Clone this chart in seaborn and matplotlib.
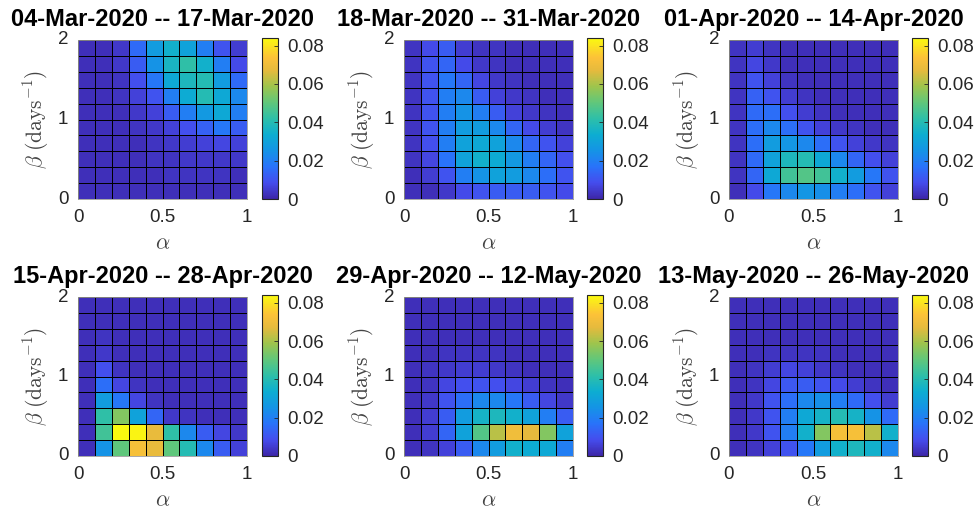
import numpy as np
import pandas as pd
import matplotlib
matplotlib.use("Agg")
import matplotlib.pyplot as plt
import seaborn as sns
from matplotlib.colors import LinearSegmentedColormap

# ---------------------------------------------------------------
# Data: fraction of posterior mass on an (alpha, beta) grid
# rows run from beta = 1.8-2.0 (top) down to beta = 0-0.2 (bottom)
# ---------------------------------------------------------------
alpha = [0.05, 0.15, 0.25, 0.35, 0.45, 0.55, 0.65, 0.75, 0.85, 0.95]
beta = [1.9, 1.7, 1.5, 1.3, 1.1, 0.9, 0.7, 0.5, 0.3, 0.1]

titles = [
    "04-Mar-2020 -- 17-Mar-2020",
    "18-Mar-2020 -- 31-Mar-2020",
    "01-Apr-2020 -- 14-Apr-2020",
    "15-Apr-2020 -- 28-Apr-2020",
    "29-Apr-2020 -- 12-May-2020",
    "13-May-2020 -- 26-May-2020",
]

p_mar04 = [
    [0.002, 0.002, 0.004, 0.015, 0.028, 0.035, 0.030, 0.020, 0.010, 0.005],
    [0.002, 0.002, 0.004, 0.012, 0.025, 0.037, 0.042, 0.035, 0.020, 0.008],
    [0.002, 0.002, 0.003, 0.009, 0.018, 0.032, 0.038, 0.040, 0.028, 0.015],
    [0.002, 0.002, 0.003, 0.006, 0.010, 0.020, 0.033, 0.040, 0.032, 0.022],
    [0.002, 0.002, 0.002, 0.004, 0.006, 0.012, 0.020, 0.027, 0.032, 0.020],
    [0.002, 0.002, 0.002, 0.003, 0.004, 0.006, 0.009, 0.013, 0.018, 0.012],
    [0.002, 0.002, 0.002, 0.002, 0.003, 0.004, 0.005, 0.006, 0.007, 0.006],
    [0.002, 0.002, 0.002, 0.002, 0.003, 0.003, 0.004, 0.004, 0.004, 0.004],
    [0.002, 0.002, 0.002, 0.002, 0.002, 0.003, 0.003, 0.003, 0.003, 0.002],
    [0.002, 0.002, 0.002, 0.002, 0.002, 0.002, 0.002, 0.002, 0.002, 0.002],
]

p_mar18 = [
    [0.003, 0.008, 0.012, 0.005, 0.003, 0.003, 0.002, 0.002, 0.002, 0.002],
    [0.003, 0.010, 0.014, 0.008, 0.004, 0.003, 0.002, 0.002, 0.002, 0.002],
    [0.003, 0.010, 0.018, 0.014, 0.007, 0.004, 0.003, 0.002, 0.002, 0.002],
    [0.003, 0.010, 0.020, 0.022, 0.012, 0.006, 0.004, 0.003, 0.002, 0.002],
    [0.003, 0.010, 0.020, 0.025, 0.020, 0.012, 0.006, 0.004, 0.003, 0.002],
    [0.003, 0.010, 0.020, 0.028, 0.028, 0.022, 0.014, 0.008, 0.005, 0.003],
    [0.003, 0.009, 0.020, 0.030, 0.032, 0.030, 0.022, 0.014, 0.010, 0.006],
    [0.003, 0.007, 0.017, 0.030, 0.035, 0.033, 0.027, 0.020, 0.014, 0.009],
    [0.002, 0.005, 0.010, 0.020, 0.025, 0.030, 0.028, 0.022, 0.016, 0.010],
    [0.002, 0.002, 0.004, 0.008, 0.010, 0.012, 0.012, 0.012, 0.010, 0.008],
]

p_apr01 = [
    [0.003, 0.005, 0.003, 0.002, 0.002, 0.002, 0.002, 0.002, 0.002, 0.002],
    [0.003, 0.007, 0.004, 0.002, 0.002, 0.002, 0.002, 0.002, 0.002, 0.002],
    [0.003, 0.010, 0.006, 0.003, 0.002, 0.002, 0.002, 0.002, 0.002, 0.002],
    [0.003, 0.013, 0.010, 0.005, 0.003, 0.002, 0.002, 0.002, 0.002, 0.002],
    [0.003, 0.015, 0.016, 0.009, 0.005, 0.003, 0.002, 0.002, 0.002, 0.002],
    [0.003, 0.016, 0.022, 0.016, 0.010, 0.006, 0.004, 0.003, 0.002, 0.002],
    [0.003, 0.016, 0.028, 0.026, 0.022, 0.016, 0.010, 0.006, 0.004, 0.003],
    [0.003, 0.015, 0.030, 0.038, 0.040, 0.032, 0.022, 0.014, 0.009, 0.006],
    [0.003, 0.014, 0.032, 0.045, 0.048, 0.045, 0.035, 0.028, 0.018, 0.010],
    [0.002, 0.008, 0.018, 0.022, 0.026, 0.024, 0.020, 0.016, 0.010, 0.006],
]

p_apr15 = [
    [0.002, 0.002, 0.002, 0.002, 0.002, 0.002, 0.002, 0.002, 0.002, 0.002],
    [0.002, 0.002, 0.002, 0.002, 0.002, 0.002, 0.002, 0.002, 0.002, 0.002],
    [0.002, 0.003, 0.002, 0.002, 0.002, 0.002, 0.002, 0.002, 0.002, 0.002],
    [0.002, 0.004, 0.002, 0.002, 0.002, 0.002, 0.002, 0.002, 0.002, 0.002],
    [0.002, 0.009, 0.003, 0.002, 0.002, 0.002, 0.002, 0.002, 0.002, 0.002],
    [0.002, 0.016, 0.007, 0.003, 0.002, 0.002, 0.002, 0.002, 0.002, 0.002],
    [0.002, 0.028, 0.018, 0.007, 0.003, 0.002, 0.002, 0.002, 0.002, 0.002],
    [0.002, 0.042, 0.055, 0.030, 0.014, 0.004, 0.003, 0.002, 0.002, 0.002],
    [0.002, 0.045, 0.085, 0.083, 0.068, 0.042, 0.022, 0.012, 0.007, 0.004],
    [0.002, 0.025, 0.050, 0.072, 0.068, 0.050, 0.040, 0.022, 0.012, 0.006],
]

p_apr29 = [
    [0.002, 0.002, 0.002, 0.002, 0.002, 0.002, 0.002, 0.002, 0.002, 0.002],
    [0.002, 0.002, 0.002, 0.002, 0.002, 0.002, 0.002, 0.002, 0.002, 0.002],
    [0.002, 0.002, 0.002, 0.002, 0.002, 0.002, 0.002, 0.002, 0.002, 0.002],
    [0.002, 0.002, 0.003, 0.003, 0.003, 0.003, 0.002, 0.002, 0.002, 0.002],
    [0.002, 0.003, 0.004, 0.005, 0.005, 0.004, 0.003, 0.002, 0.002, 0.002],
    [0.002, 0.003, 0.007, 0.009, 0.010, 0.009, 0.007, 0.005, 0.003, 0.002],
    [0.002, 0.004, 0.010, 0.016, 0.022, 0.022, 0.018, 0.012, 0.007, 0.004],
    [0.002, 0.005, 0.012, 0.028, 0.036, 0.038, 0.035, 0.030, 0.020, 0.012],
    [0.002, 0.005, 0.014, 0.030, 0.048, 0.062, 0.070, 0.067, 0.055, 0.030],
    [0.002, 0.003, 0.006, 0.012, 0.022, 0.028, 0.035, 0.033, 0.032, 0.020],
]

p_may13 = [
    [0.002, 0.002, 0.002, 0.002, 0.002, 0.002, 0.002, 0.002, 0.002, 0.002],
    [0.002, 0.002, 0.002, 0.002, 0.002, 0.002, 0.002, 0.002, 0.002, 0.002],
    [0.002, 0.002, 0.002, 0.002, 0.002, 0.002, 0.002, 0.002, 0.002, 0.002],
    [0.002, 0.002, 0.003, 0.003, 0.003, 0.003, 0.002, 0.002, 0.002, 0.002],
    [0.002, 0.003, 0.005, 0.007, 0.006, 0.004, 0.003, 0.002, 0.002, 0.002],
    [0.002, 0.003, 0.007, 0.011, 0.012, 0.010, 0.008, 0.005, 0.003, 0.002],
    [0.002, 0.004, 0.010, 0.016, 0.022, 0.024, 0.020, 0.015, 0.009, 0.005],
    [0.002, 0.004, 0.010, 0.020, 0.032, 0.036, 0.040, 0.036, 0.025, 0.015],
    [0.002, 0.004, 0.010, 0.020, 0.035, 0.055, 0.072, 0.072, 0.062, 0.035],
    [0.002, 0.003, 0.006, 0.010, 0.018, 0.028, 0.035, 0.038, 0.035, 0.022],
]

panels = [p_mar04, p_mar18, p_apr01, p_apr15, p_apr29, p_may13]

# MATLAB-like parula approximation
parula = LinearSegmentedColormap.from_list("parula", [
    (0.00, (0.24, 0.15, 0.66)),
    (0.10, (0.27, 0.30, 0.93)),
    (0.20, (0.16, 0.45, 0.98)),
    (0.30, (0.08, 0.58, 0.90)),
    (0.40, (0.05, 0.68, 0.82)),
    (0.50, (0.18, 0.75, 0.66)),
    (0.60, (0.38, 0.78, 0.48)),
    (0.70, (0.62, 0.77, 0.30)),
    (0.80, (0.90, 0.73, 0.24)),
    (0.88, (0.99, 0.76, 0.22)),
    (1.00, (0.98, 0.98, 0.06)),
])

plt.rcParams["font.family"] = ["Liberation Sans", "DejaVu Sans"]
plt.rcParams["mathtext.fontset"] = "cm"

W, H = 977, 514
fig = plt.figure(figsize=(W / 100, H / 100), dpi=100)

ax_left = [78, 404, 729]
cb_left = [262, 587, 912]
ax_top = [40, 297]

for i, (vals, title) in enumerate(zip(panels, titles)):
    r, c = divmod(i, 3)
    ax = fig.add_axes([ax_left[c] / W, 1 - (ax_top[r] + 159) / H, 169 / W, 159 / H])
    cax = fig.add_axes([cb_left[c] / W, 1 - (ax_top[r] - 2 + 161) / H, 16 / W, 161 / H])
    df = pd.DataFrame(vals, index=beta, columns=alpha)
    sns.heatmap(df, ax=ax, cbar_ax=cax, cmap=parula, vmin=0, vmax=0.084,
                linewidths=0.5, linecolor="black",
                cbar_kws={"ticks": [0, 0.02, 0.04, 0.06, 0.08]})

    ax.set_xticks([0, 5, 10])
    ax.set_xticklabels(["0", "0.5", "1"], rotation=0)
    ax.set_yticks([0, 5, 10])
    ax.set_yticklabels(["2", "1", "0"], rotation=0)
    ax.tick_params(length=0, labelsize=13.5, colors="#262626", pad=7)
    for s in ax.spines.values():
        s.set_visible(True)
        s.set_color("#999999")
        s.set_linewidth(0.6)

    ax.set_xlabel(r"$\alpha$", fontsize=16, color="#444444")
    ax.set_ylabel(r"$\beta\ (\mathrm{days}^{-1})$", fontsize=15.5, color="#444444")
    ax.xaxis.set_label_coords(0.5, -0.215)
    ax.yaxis.set_label_coords(-0.16, 0.5)
    ax.set_title(title, fontsize=17, fontweight="bold", pad=10)

    cax.set_yticklabels(["0", "0.02", "0.04", "0.06", "0.08"])
    cax.tick_params(direction="in", length=3, width=0.6, labelsize=13.5,
                    colors="#262626", pad=7)
    cb = ax.collections[0].colorbar
    cb.outline.set_linewidth(0.8)
    cb.outline.set_edgecolor("#262626")

fig.savefig("out.png", dpi=100)
